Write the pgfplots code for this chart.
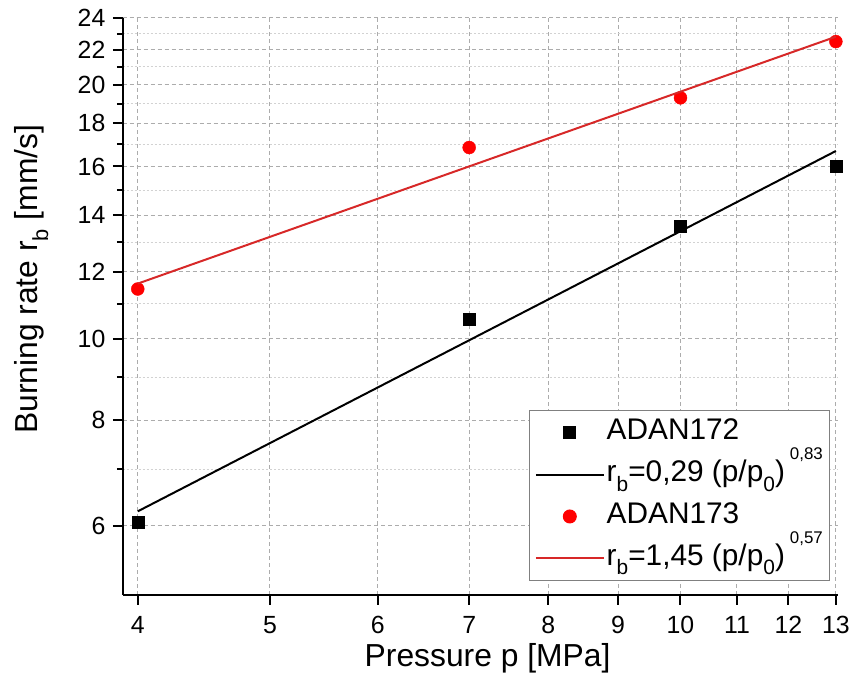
\documentclass[border=0pt]{standalone}
\usepackage{pgfplots}
\pgfplotsset{compat=1.18}
\usepackage{fontspec}
\setmainfont{Liberation Sans}
\newcommand\lsub[2][21]{\smash{\raisebox{-0.32em}{\fontsize{#1}{#1}\selectfont #2}}}
\newcommand\lsup[2][17]{\smash{\raisebox{22bp}{\fontsize{#1}{#1}\selectfont #2}}}
\definecolor{fitred}{RGB}{215,40,40}
\begin{document}
\begin{tikzpicture}
\begin{axis}[
 scale only axis, width=717bp, height=578bp,
 xmode=log, ymode=log,
 xmin=3.9, xmax=13.05, ymin=4.97, ymax=24,
 axis x line*=bottom, axis y line*=left,
 axis line style={line width=2bp, -},
 xtick={4,5,6,7,8,9,10,11,12,13},
 xticklabels={4,5,6,7,8,9,10,11,12,13},
 ytick={6,8,10,12,14,16,18,20,22,24},
 yticklabels={6,8,10,12,14,16,18,20,22,24},
 minor ytick={7,9,11,13,15,17,19,21,23},
 xminorticks=false,
 tick align=outside,
 major tick length=10bp, minor tick length=6bp,
 every tick/.style={line width=2bp, black},
 xmajorgrids, ymajorgrids, yminorgrids,
 major grid style={gray!65, dash pattern=on 4bp off 3bp, line width=0.9bp},
 minor grid style={gray!35, dash pattern=on 2bp off 2bp, line width=0.8bp},
 /pgf/number format/assume math mode=true,
 ticklabel style={font=\fontsize{25}{25}\selectfont},
 xticklabel style={yshift=-8bp},
 yticklabel style={xshift=-4bp},
 xlabel={Pressure p [MPa]},
 ylabel={Burning rate r\lsub[22]{b} [mm/s]},
 label style={font=\fontsize{32}{32}\selectfont},
 xlabel style={at={(axis description cs:0.51,-0.11)}, anchor=center},
 ylabel style={at={(axis description cs:-0.13,0.547)}, anchor=center},
 clip mode=individual,
 legend cell align=left,
 legend style={at={(rel axis cs:0.989,0.024)}, anchor=south east,
   draw=gray, line width=1bp, fill=white,
   font=\fontsize{30}{30}\selectfont, row sep=8bp, inner sep=5bp,
   nodes={inner sep=2bp, text height=22bp, text depth=8bp}},
 legend image code/.code={\draw[mark repeat=2,mark phase=2,#1] plot coordinates {(0bp,0bp) (34bp,0bp) (68bp,0bp)};},
]
\addplot[only marks, mark=square*, mark size=6bp, black] coordinates {(4,6.05) (7,10.55) (10,13.6) (13,16.0)};
\addlegendentry{ADAN172}
\addplot[black, line width=2bp, no marks] coordinates {(4,6.24) (13,16.69)};
\addlegendentry{r\lsub{b}=0,29 (p/p\lsub{0})\,\lsup{0,83}}
\addplot[only marks, mark=*, mark size=6.5bp, red] coordinates {(4,11.45) (7,16.85) (10,19.3) (13,22.5)};
\addlegendentry{ADAN173}
\addplot[fitred, line width=2bp, no marks] coordinates {(4,11.62) (13,22.8)};
\addlegendentry{r\lsub{b}=1,45 (p/p\lsub{0})\,\lsup{0,57}}
\end{axis}
\path[use as bounding box] (-123bp,-94bp) rectangle (730bp,596bp);
\end{tikzpicture}
\end{document}
